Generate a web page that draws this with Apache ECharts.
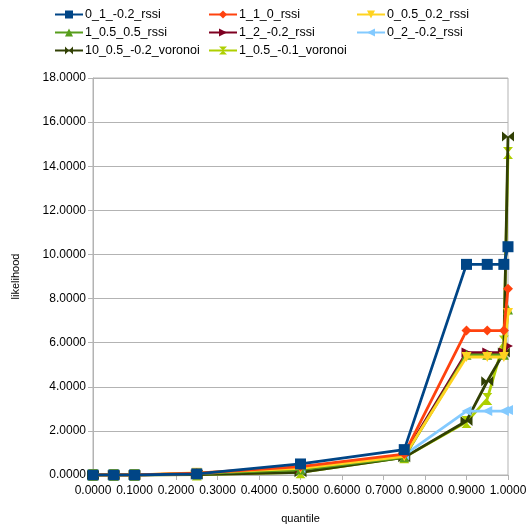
<!DOCTYPE html>
<html><head><meta charset="utf-8">
<script src="https://cdn.jsdelivr.net/npm/echarts@6/dist/echarts.min.js"></script>
<style>html,body{margin:0;padding:0;background:#fff}#c{width:530px;height:526px}</style>
</head><body><div id="c"></div>
<script>
var quantiles = [0, 0.05, 0.1, 0.25, 0.5, 0.75, 0.9, 0.95, 0.99, 1.0];
var seriesNames = ['0_1_-0.2_rssi','1_1_0_rssi','0_0.5_0.2_rssi','1_0.5_0.5_rssi','1_2_-0.2_rssi','0_2_-0.2_rssi','10_0.5_-0.2_voronoi','1_0.5_-0.1_voronoi'];
var s_0_1_m02_rssi   = [0,0,0,0.05,0.50,1.15,9.55,9.55,9.55,10.35];
var s_1_1_0_rssi     = [0,0,0,0.08,0.38,0.95,6.55,6.55,6.55,8.45];
var s_0_05_02_rssi   = [0,0,0,0.10,0.30,0.85,5.35,5.35,5.35,7.35];
var s_1_05_05_rssi   = [0,0,0,0.06,0.25,0.80,5.45,5.45,5.45,7.50];
var s_1_2_m02_rssi   = [0,0,0,0.06,0.30,0.88,5.55,5.55,5.55,5.85];
var s_0_2_m02_rssi   = [0,0,0,0.06,0.30,0.90,2.90,2.90,2.90,2.95];
var s_10_05_m02_vor  = [0,0,0,0.02,0.12,0.80,2.45,4.25,5.55,15.35];
var s_1_05_m01_vor   = [0,0,0,0.02,0.12,0.80,2.40,3.45,6.05,14.60];
var yTicks = [0,2,4,6,8,10,12,14,16,18];
var xTicks = [0,0.1,0.2,0.3,0.4,0.5,0.6,0.7,0.8,0.9,1.0];

var values = [s_0_1_m02_rssi,s_1_1_0_rssi,s_0_05_02_rssi,s_1_05_05_rssi,s_1_2_m02_rssi,s_0_2_m02_rssi,s_10_05_m02_vor,s_1_05_m01_vor];
var colors = ['#004586','#ff420e','#ffd320','#579d1c','#7e0021','#83caff','#314004','#aecf00'];
var symbols = ['rect','diamond','triangle','triangle','triangle','triangle',
  'path://M0,0L10,5L0,10ZM20,0L10,5L20,10Z','path://M0,0L5,10L10,0ZM0,20L5,10L10,20Z'];
var rotates = [0,0,180,0,-90,90,0,0];
var sizes = [11,10,10,10,10,10,[12,10],[10,12]];

var series = seriesNames.map(function(n,i){
  return {
    name:n, type:'line', color:colors[i],
    data: quantiles.map(function(q,j){return [q, values[i][j]];}),
    symbol:symbols[i], symbolRotate:rotates[i], symbolSize:sizes[i], showAllSymbol:true,
    lineStyle:{width:2.8}, itemStyle:{color:colors[i]}, z: 10-i
  };
});
function leg(left, names){
  return {orient:'vertical', left:left, top:3, itemGap:5, itemWidth:28, itemHeight:10,
    data:names, textStyle:{fontFamily:'Liberation Sans', fontSize:12.5, color:'#000', padding:[0,0,0,-3]}};
}
var chart = echarts.init(document.getElementById('c'));
chart.setOption({
  animation:false,
  legend:[leg(49,[seriesNames[0],seriesNames[3],seriesNames[6]]),
          leg(203,[seriesNames[1],seriesNames[4],seriesNames[7]]),
          leg(351,[seriesNames[2],seriesNames[5]])],
  grid:{left:93,right:22,top:78,bottom:51,outerBoundsMode:'none',containLabel:false,
    show:true,borderColor:'#b3b3b3',borderWidth:1},
  xAxis:{type:'value',min:0,max:1,interval:0.1,
    name:'quantile',nameLocation:'middle',nameGap:38,
    nameTextStyle:{fontFamily:'Liberation Sans',fontSize:11,color:'#000'},
    axisLine:{lineStyle:{color:'#b3b3b3'}},
    axisTick:{show:true,length:5,lineStyle:{color:'#b3b3b3'}},
    splitLine:{show:false},
    axisLabel:{fontFamily:'Liberation Sans',fontSize:12,color:'#000',margin:10,
      formatter:function(v){return v.toFixed(4);}}},
  yAxis:{type:'value',min:0,max:18,interval:2,
    name:'likelihood',nameLocation:'middle',nameGap:72,nameRotate:90,
    nameTextStyle:{fontFamily:'Liberation Sans',fontSize:11,color:'#000'},
    axisLine:{show:true,lineStyle:{color:'#b3b3b3'}},
    axisTick:{show:true,length:5,lineStyle:{color:'#b3b3b3'}},
    splitLine:{lineStyle:{color:'#b3b3b3'}},
    axisLabel:{fontFamily:'Liberation Sans',fontSize:12,color:'#000',margin:7,
      formatter:function(v){return v.toFixed(4);}}},
  series:series
});
</script></body></html>
